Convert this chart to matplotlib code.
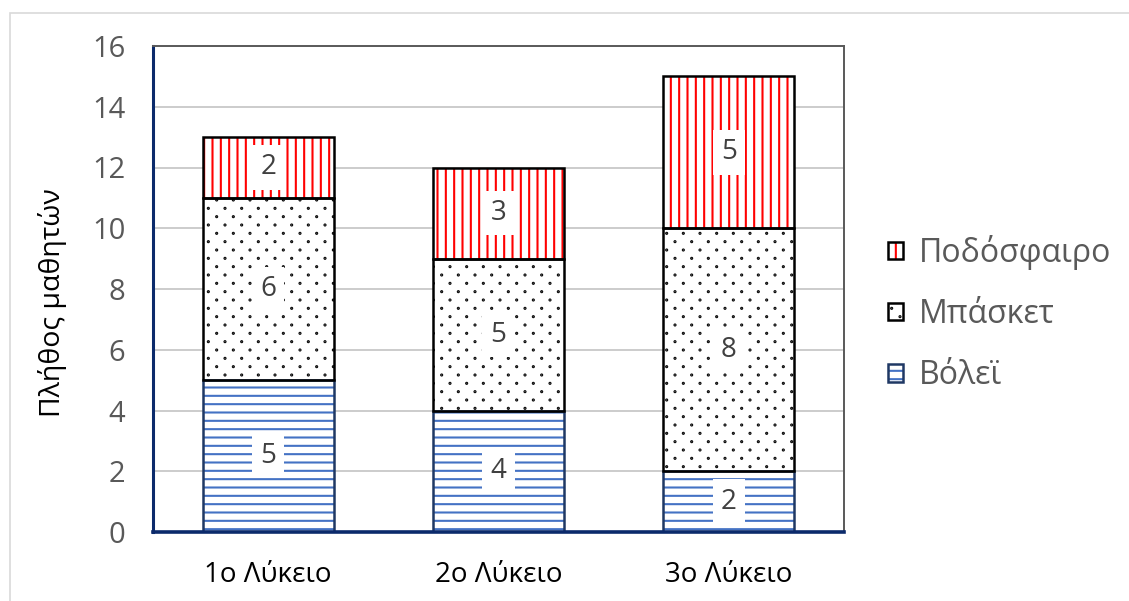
import numpy as np
import matplotlib
matplotlib.use("Agg")
import matplotlib.pyplot as plt
from matplotlib import hatch as mhatch
from matplotlib.path import Path
from matplotlib.patches import Patch, Rectangle

# ---------------- data ----------------
categories = ["1ο Λύκειο", "2ο Λύκειο", "3ο Λύκειο"]
volley = [5, 4, 2]
basket = [6, 5, 8]
football = [2, 3, 5]
series_names = ["Βόλεϊ", "Μπάσκετ", "Ποδόσφαιρο"]
y_ticks = [0, 2, 4, 6, 8, 10, 12, 14, 16]
y_label = "Πλήθος μαθητών"


# ---------- custom staggered dot hatch (replaces '.') ----------
class StaggeredDots(mhatch.HatchPatternBase):
    def __init__(self, hatch, density):
        n = hatch.count('.')
        self.n_cols = n * density
        self.n_rows = 2 * n * density
        circ = Path.unit_circle()
        self.shape_vertices = circ.vertices
        self.shape_codes = circ.codes
        if n == 0:
            self.num_vertices = 0
        else:
            num_shapes = ((self.n_rows // 2 + 1) * (self.n_cols + 1)
                          + (self.n_rows // 2) * self.n_cols)
            self.num_vertices = num_shapes * len(self.shape_vertices)

    def set_vertices_and_codes(self, vertices, codes):
        dy = 1.0 / self.n_rows
        dx = 1.0 / self.n_cols
        sv = self.shape_vertices * 0.005
        vp, cp = [], []
        for row in range(self.n_rows + 1):
            if row % 2 == 0:
                cols = np.linspace(0, 1, self.n_cols + 1)
            else:
                cols = np.linspace(dx / 2, 1 - dx / 2, self.n_cols)
            for c in cols:
                vp.append(sv + [c, row * dy])
                cp.append(self.shape_codes)
        np.concatenate(vp, out=vertices)
        np.concatenate(cp, out=codes)


mhatch._hatch_types = [StaggeredDots if t is mhatch.SmallFilledCircles else t
                       for t in mhatch._hatch_types]

plt.rcParams['font.family'] = ['Open Sans', 'DejaVu Sans']
plt.rcParams['hatch.linewidth'] = 1.5

W, H = 1129, 601
fig = plt.figure(figsize=(W / 100, H / 100), dpi=100)
ax = fig.add_axes([153 / W, 1 - 532 / H, (844 - 153) / W, (532 - 46) / H])

# outer chart border
fig.patches.append(Rectangle((10 / W, -0.05), 1.2, 1.05 - 13 / H,
                             transform=fig.transFigure, fill=False,
                             edgecolor='#D9D9D9', linewidth=1.2, zorder=0))

x = np.arange(len(categories))
width = 0.57

styles = [
    dict(vals=volley, hatch='--', hcol='#4472C4', ecol='#1F3864'),
    dict(vals=basket, hatch='.', hcol='black', ecol='black'),
    dict(vals=football, hatch='||', hcol='#FF0000', ecol='black'),
]

bottom = np.zeros(len(categories))
handles = []
for name, st in zip(series_names, styles):
    vals = np.array(st['vals'], dtype=float)
    ax.bar(x, vals, width, bottom=bottom, color='white', edgecolor=st['hcol'],
           hatch=st['hatch'], linewidth=0, zorder=2)
    ax.bar(x, vals, width, bottom=bottom, fill=False, edgecolor=st['ecol'],
           linewidth=1.8, zorder=3)
    for xi, b, v in zip(x, bottom, vals):
        ax.text(xi, b + v / 2, f"{int(v)}", ha='center', va='center',
                fontsize=20, color='#404040', zorder=4,
                bbox=dict(boxstyle='square,pad=0.3', fc='white', ec='none'))
    ph = Patch(facecolor='white', edgecolor=st['hcol'], hatch=st['hatch'], linewidth=0)
    pe = Patch(fill=False, edgecolor=st['ecol'], linewidth=1.8)
    handles.append((ph, pe))
    bottom = bottom + vals

ax.set_xlim(-0.5, 2.5)
ax.set_ylim(0, 16)
ax.set_yticks(y_ticks)
ax.set_xticks(x)
ax.set_xticklabels(categories, fontsize=20, color='black')
ax.tick_params(axis='y', length=0, pad=20, labelsize=21, labelcolor='#595959')
ax.tick_params(axis='x', length=0, pad=21)
ax.yaxis.grid(True, color='#BFBFBF', linewidth=1.1, zorder=0)
ax.set_axisbelow(True)

ax.spines['left'].set_color('#0B2A6B')
ax.spines['left'].set_linewidth(2.2)
ax.spines['bottom'].set_color('#0B2A6B')
ax.spines['bottom'].set_linewidth(2.6)
ax.spines['bottom'].set_zorder(5)
ax.spines['top'].set_color('#595959')
ax.spines['top'].set_linewidth(1.4)
ax.spines['right'].set_color('#595959')
ax.spines['right'].set_linewidth(1.4)

ax.set_ylabel(y_label, fontsize=20.5, color='black')
ax.yaxis.set_label_coords(-0.124, 0.471)

fig.legend(handles[::-1], series_names[::-1], loc='upper left',
           bbox_to_anchor=(888 / W, 1 - 235 / H), frameon=False,
           fontsize=23, labelcolor='#595959', handlelength=0.46,
           handleheight=0.46, handletextpad=0.52, labelspacing=0.88,
           borderpad=0, borderaxespad=0)

fig.savefig("out.png", dpi=100)
